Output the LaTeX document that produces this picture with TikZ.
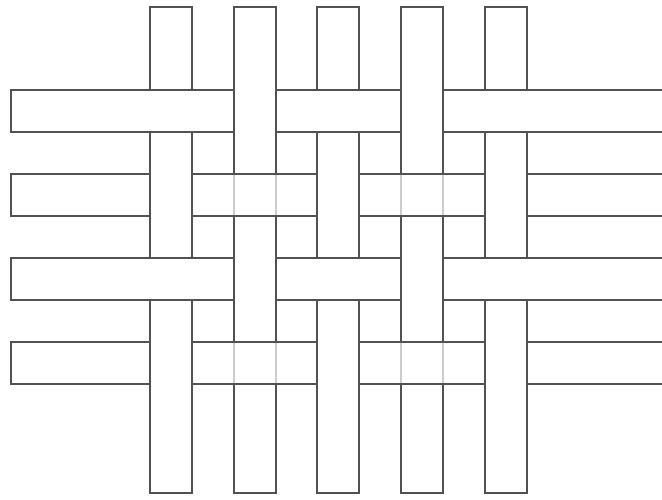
\documentclass[tikz,border=0pt]{standalone}
\begin{document}
\begin{tikzpicture}[x=1pt,y=-1pt,
  edge/.style={draw=black!68,line width=1.6pt,line join=miter},
  faint/.style={draw=black!20,line width=1.6pt},
  strip/.style={fill=white}]
\useasboundingbox (0,0) rectangle (662,499);
\def\vxs{150,234,317,401,485}
\def\hys{90,174,258,342}
% vertical strips
\foreach \x in \vxs {
  \filldraw[strip,edge] (\x,7) rectangle (\x+42,493);
}
% horizontal strips (open at right)
\foreach \y in \hys {
  \fill[strip] (11,\y) rectangle (662,\y+42);
  \draw[edge] (662,\y) -- (11,\y) -- (11,\y+42) -- (662,\y+42);
}
% vertical strips passing over
\foreach \y/\list in {90/{234,401},258/{234,401},174/{150,317,485},342/{150,317,485}} {
  \foreach \x in \list {
    \fill[strip] (\x+0.8,\y-1) rectangle (\x+41.2,\y+43);
    \draw[edge] (\x,\y-1) -- (\x,\y+43);
    \draw[edge] (\x+42,\y-1) -- (\x+42,\y+43);
  }
}
% faint hidden edges where horizontal passes over
\foreach \y in {174,342} {
  \foreach \x in {234,401} {
    \draw[faint] (\x,\y+0.8) -- (\x,\y+41.2);
    \draw[faint] (\x+42,\y+0.8) -- (\x+42,\y+41.2);
  }
}
\end{tikzpicture}
\end{document}
